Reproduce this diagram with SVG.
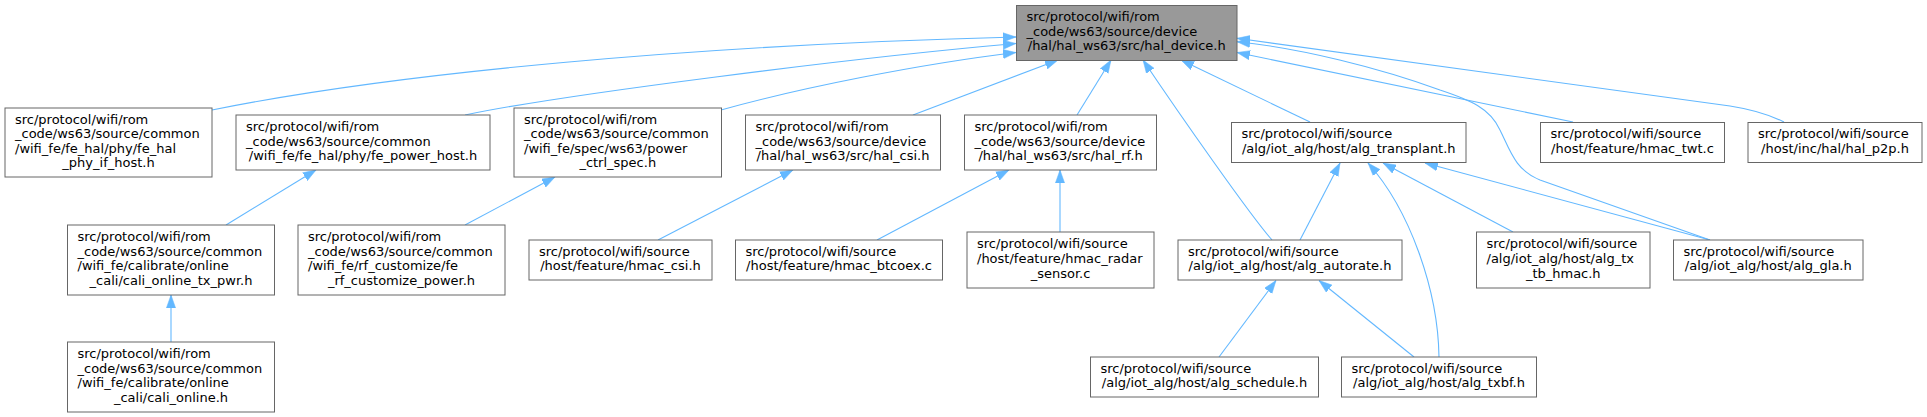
<svg xmlns="http://www.w3.org/2000/svg" width="1927" height="417" viewBox="0 0 1927 417">
<style>
.n rect{fill:#ffffff;stroke:#666666;stroke-width:1}
#root rect{fill:#999999}
.n text{font-family:"DejaVu Sans","Liberation Sans",sans-serif;font-size:13px;fill:#000000}
.n text.c{text-anchor:middle}
#edges path{fill:none;stroke:#63b8ff;stroke-width:1.1;marker-end:url(#ah)}
</style>
<defs>
<marker id="ah" viewBox="0 0 13 10" refX="13" refY="5" markerWidth="13" markerHeight="10" markerUnits="userSpaceOnUse" orient="auto">
<path d="M0,0.4 L13,5 L0,9.6 z" fill="#63b8ff" stroke="#63b8ff" stroke-width="0.5"/>
</marker>
</defs>
<rect x="0" y="0" width="1927" height="417" fill="#ffffff"/>
<g id="edges">
<path d="M212,110 C400,72 700,45 1016,37"/>
<path d="M465,115 C560,95 850,58 1016,43.5"/>
<path d="M721,110 C800,88 920,64 1016,52.5"/>
<path d="M913,115 L1058,60"/>
<path d="M1077,115 L1111,60"/>
<path d="M1272,240 C1250,215 1180,115 1143,60"/>
<path d="M1310,122 L1181,60"/>
<path d="M1573,122 L1237,52.5"/>
<path d="M1784,122 Q1762,111 1730,106 L1237,38.3"/>
<path d="M1710,240 L1540,180 C1515,170 1510,150 1500,130 C1490,108 1470,100 1440,90 C1380,68 1300,48 1237,41.7"/>
<path d="M226,225 L316,170"/>
<path d="M465,225 L555,177"/>
<path d="M658,240 L793,170"/>
<path d="M877,240 L1009,170"/>
<path d="M1060,232 L1060,170"/>
<path d="M171,342 L171,295"/>
<path d="M1300,240 L1340,163"/>
<path d="M1439,357 C1438,290 1410,210 1368,163"/>
<path d="M1513,232 L1383,163"/>
<path d="M1710,240 L1425,163"/>
<path d="M1219,357 L1276,280.5"/>
<path d="M1414,357 L1319,280.5"/>
</g>
<g id="root" class="n">
<rect x="1016.5" y="5.5" width="220.5" height="55"/>
<text x="1026.5" y="20.9">src/protocol/wifi/rom</text>
<text x="1026.5" y="35.5">_code/ws63/source/device</text>
<text class="c" x="1126.75" y="50.1">/hal/hal_ws63/src/hal_device.h</text>
</g>
<g id="fe_phy_if_host" class="n">
<rect x="5" y="108" width="207" height="69"/>
<text x="15" y="123.6">src/protocol/wifi/rom</text>
<text x="15" y="138.2">_code/ws63/source/common</text>
<text x="15" y="152.8">/wifi_fe/fe_hal/phy/fe_hal</text>
<text class="c" x="108.5" y="167.4">_phy_if_host.h</text>
</g>
<g id="fe_power_host" class="n">
<rect x="236" y="115" width="254" height="55"/>
<text x="246" y="130.9">src/protocol/wifi/rom</text>
<text x="246" y="145.5">_code/ws63/source/common</text>
<text class="c" x="363" y="160.1">/wifi_fe/fe_hal/phy/fe_power_host.h</text>
</g>
<g id="power_ctrl_spec" class="n">
<rect x="514" y="108" width="207.5" height="69"/>
<text x="524" y="123.6">src/protocol/wifi/rom</text>
<text x="524" y="138.2">_code/ws63/source/common</text>
<text x="524" y="152.8">/wifi_fe/spec/ws63/power</text>
<text class="c" x="617.75" y="167.4">_ctrl_spec.h</text>
</g>
<g id="hal_csi" class="n">
<rect x="745.5" y="115" width="195" height="55"/>
<text x="755.5" y="130.9">src/protocol/wifi/rom</text>
<text x="755.5" y="145.5">_code/ws63/source/device</text>
<text class="c" x="843" y="160.1">/hal/hal_ws63/src/hal_csi.h</text>
</g>
<g id="hal_rf" class="n">
<rect x="964.5" y="115" width="192" height="55"/>
<text x="974.5" y="130.9">src/protocol/wifi/rom</text>
<text x="974.5" y="145.5">_code/ws63/source/device</text>
<text class="c" x="1060.5" y="160.1">/hal/hal_ws63/src/hal_rf.h</text>
</g>
<g id="alg_transplant" class="n">
<rect x="1231.5" y="122.5" width="234.5" height="40"/>
<text x="1241.5" y="138.2">src/protocol/wifi/source</text>
<text class="c" x="1348.75" y="152.8">/alg/iot_alg/host/alg_transplant.h</text>
</g>
<g id="hmac_twt" class="n">
<rect x="1540.5" y="122.5" width="184" height="40"/>
<text x="1550.5" y="138.2">src/protocol/wifi/source</text>
<text class="c" x="1632.5" y="152.8">/host/feature/hmac_twt.c</text>
</g>
<g id="hal_p2p" class="n">
<rect x="1748" y="122.5" width="174" height="40"/>
<text x="1758" y="138.2">src/protocol/wifi/source</text>
<text class="c" x="1835" y="152.8">/host/inc/hal/hal_p2p.h</text>
</g>
<g id="cali_online_tx_pwr" class="n">
<rect x="67.5" y="225" width="207" height="70"/>
<text x="77.5" y="241.1">src/protocol/wifi/rom</text>
<text x="77.5" y="255.7">_code/ws63/source/common</text>
<text x="77.5" y="270.3">/wifi_fe/calibrate/online</text>
<text class="c" x="171" y="284.9">_cali/cali_online_tx_pwr.h</text>
</g>
<g id="fe_rf_customize_power" class="n">
<rect x="298" y="225" width="207" height="70"/>
<text x="308" y="241.1">src/protocol/wifi/rom</text>
<text x="308" y="255.7">_code/ws63/source/common</text>
<text x="308" y="270.3">/wifi_fe/rf_customize/fe</text>
<text class="c" x="401.5" y="284.9">_rf_customize_power.h</text>
</g>
<g id="hmac_csi" class="n">
<rect x="529" y="240" width="183" height="40"/>
<text x="539" y="255.7">src/protocol/wifi/source</text>
<text class="c" x="620.5" y="270.3">/host/feature/hmac_csi.h</text>
</g>
<g id="hmac_btcoex" class="n">
<rect x="735.5" y="240" width="207" height="40"/>
<text x="745.5" y="255.7">src/protocol/wifi/source</text>
<text class="c" x="839" y="270.3">/host/feature/hmac_btcoex.c</text>
</g>
<g id="hmac_radar_sensor" class="n">
<rect x="967" y="232" width="187" height="56"/>
<text x="977" y="248.4">src/protocol/wifi/source</text>
<text x="977" y="263">/host/feature/hmac_radar</text>
<text class="c" x="1060.5" y="277.6">_sensor.c</text>
</g>
<g id="alg_autorate" class="n">
<rect x="1178" y="240" width="224" height="40"/>
<text x="1188" y="255.7">src/protocol/wifi/source</text>
<text class="c" x="1290" y="270.3">/alg/iot_alg/host/alg_autorate.h</text>
</g>
<g id="alg_tx_tb_hmac" class="n">
<rect x="1476.5" y="232" width="173.5" height="56"/>
<text x="1486.5" y="248.4">src/protocol/wifi/source</text>
<text x="1486.5" y="263">/alg/iot_alg/host/alg_tx</text>
<text class="c" x="1563.25" y="277.6">_tb_hmac.h</text>
</g>
<g id="alg_gla" class="n">
<rect x="1673.5" y="240" width="189.5" height="40"/>
<text x="1683.5" y="255.7">src/protocol/wifi/source</text>
<text class="c" x="1768.25" y="270.3">/alg/iot_alg/host/alg_gla.h</text>
</g>
<g id="cali_online" class="n">
<rect x="67.5" y="342" width="207" height="70"/>
<text x="77.5" y="358.1">src/protocol/wifi/rom</text>
<text x="77.5" y="372.7">_code/ws63/source/common</text>
<text x="77.5" y="387.3">/wifi_fe/calibrate/online</text>
<text class="c" x="171" y="401.9">_cali/cali_online.h</text>
</g>
<g id="alg_schedule" class="n">
<rect x="1090.5" y="357" width="228" height="40"/>
<text x="1100.5" y="372.7">src/protocol/wifi/source</text>
<text class="c" x="1204.5" y="387.3">/alg/iot_alg/host/alg_schedule.h</text>
</g>
<g id="alg_txbf" class="n">
<rect x="1341.5" y="357" width="195" height="40"/>
<text x="1351.5" y="372.7">src/protocol/wifi/source</text>
<text class="c" x="1439" y="387.3">/alg/iot_alg/host/alg_txbf.h</text>
</g>
</svg>
